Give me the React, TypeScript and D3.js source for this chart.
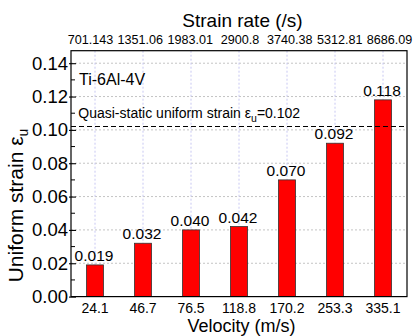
import { useEffect, useRef } from 'react'
import { select, scaleBand, scaleLinear, scalePoint, axisLeft, format } from 'd3'

const velocities = ['24.1', '46.7', '76.5', '118.8', '170.2', '253.3', '335.1']
const strainRates = ['701.143', '1351.06', '1983.01', '2900.8', '3740.38', '5312.81', '8686.09']
const uniformStrain = [0.019, 0.032, 0.04, 0.042, 0.07, 0.092, 0.118]
const quasiStatic = 0.102
const majorTicks = [0, 0.02, 0.04, 0.06, 0.08, 0.1, 0.12, 0.14]
const minorTicks = [0.01, 0.03, 0.05, 0.07, 0.09, 0.11, 0.13]

const W = 416
const H = 336
const left = 71
const right = 407
const top = 50.7
const bottom = 296.6
const font = 'Liberation Sans, Arial, Helvetica, sans-serif'

export default function App() {
  const svgRef = useRef<SVGSVGElement | null>(null)

  useEffect(() => {
    const svg = select(svgRef.current)
    svg.selectAll('*').remove()

    const x = scaleBand<string>().domain(velocities).range([left, right]).padding(0)
    const y = scaleLinear().domain([0, 0.1475]).range([bottom, top])
    // top axis labels are spread a little wider than the bars
    const xTop = scalePoint<string>().domain(strainRates).range([90.5, 389.5])
    const cx = (v: string) => (x(v) as number) + x.bandwidth() / 2
    const barW = x.bandwidth() * 0.355

    // grid
    svg
      .append('g')
      .selectAll('line')
      .data(majorTicks.slice(1))
      .join('line')
      .attr('x1', left)
      .attr('x2', right)
      .attr('y1', (d) => y(d))
      .attr('y2', (d) => y(d))
      .attr('stroke', '#c4c4c4')
      .attr('stroke-dasharray', '2,2')
    svg
      .append('g')
      .selectAll('line')
      .data(velocities)
      .join('line')
      .attr('x1', cx)
      .attr('x2', cx)
      .attr('y1', top)
      .attr('y2', bottom)
      .attr('stroke', '#c8c8f2')
      .attr('stroke-dasharray', '2,2')

    // bars
    svg
      .append('g')
      .selectAll('rect')
      .data(uniformStrain)
      .join('rect')
      .attr('x', (_, i) => cx(velocities[i]) - barW / 2)
      .attr('width', barW)
      .attr('y', (d) => y(d))
      .attr('height', (d) => bottom - y(d))
      .attr('fill', '#ff0000')
      .attr('stroke', '#333')
      .attr('stroke-width', 0.8)

    const fmt = format('.3f')
    svg
      .append('g')
      .selectAll('text')
      .data(uniformStrain)
      .join('text')
      .attr('x', (_, i) => cx(velocities[i]) - 1)
      .attr('y', (d) => y(d) - 4)
      .attr('text-anchor', 'middle')
      .attr('font-family', font)
      .attr('font-size', 15.5)
      .text((d) => fmt(d))

    // quasi-static line
    svg
      .append('line')
      .attr('x1', left)
      .attr('x2', right)
      .attr('y1', y(quasiStatic))
      .attr('y2', y(quasiStatic))
      .attr('stroke', '#000')
      .attr('stroke-width', 1.1)
      .attr('stroke-dasharray', '5,3')

    const q = svg
      .append('text')
      .attr('x', 78.3)
      .attr('y', 118.3)
      .attr('font-family', font)
      .attr('font-size', 14)
    q.append('tspan').text('Quasi-static uniform strain ε')
    q.append('tspan').attr('font-size', 10.5).attr('dy', 3.5).text('u')
    q.append('tspan').attr('dy', -3.5).text(`=${quasiStatic.toFixed(3)}`)

    svg
      .append('text')
      .attr('x', 79)
      .attr('y', 85)
      .attr('font-family', font)
      .attr('font-size', 16)
      .text('Ti-6Al-4V')

    // frame
    svg
      .append('rect')
      .attr('x', left)
      .attr('y', top)
      .attr('width', right - left)
      .attr('height', bottom - top)
      .attr('fill', 'none')
      .attr('stroke', '#000')
      .attr('stroke-width', 1.2)

    // y axis
    const yAxis = axisLeft(y)
      .tickValues(majorTicks)
      .tickSizeInner(-5)
      .tickSizeOuter(0)
      .tickPadding(-1)
      .tickFormat((d) => format('.2f')(d as number))
    const ya = svg.append('g').attr('transform', `translate(${left},0)`).call(yAxis as any)
    ya.select('.domain').remove()
    ya.selectAll('.tick line').attr('x1', -2).attr('x2', 5).attr('stroke-width', 1.1)
    ya.selectAll('.tick text')
      .attr('x', -3)
      .attr('font-family', font)
      .attr('font-size', 18.5)
      .attr('fill', '#000')
    svg
      .append('g')
      .selectAll('line')
      .data(minorTicks)
      .join('line')
      .attr('x1', left)
      .attr('x2', left + 4)
      .attr('y1', (d) => y(d))
      .attr('y2', (d) => y(d))
      .attr('stroke', '#000')

    // bottom labels
    svg
      .append('g')
      .selectAll('text')
      .data(velocities)
      .join('text')
      .attr('x', cx)
      .attr('y', 313)
      .attr('text-anchor', 'middle')
      .attr('font-family', font)
      .attr('font-size', 14)
      .text((d) => d)

    // top labels
    svg
      .append('g')
      .selectAll('text')
      .data(strainRates)
      .join('text')
      .attr('x', (d) => xTop(d) as number)
      .attr('y', 43.5)
      .attr('text-anchor', 'middle')
      .attr('font-family', font)
      .attr('font-size', 12.6)
      .text((d) => d)

    svg
      .append('text')
      .attr('x', 242.5)
      .attr('y', 26.7)
      .attr('text-anchor', 'middle')
      .attr('font-family', font)
      .attr('font-size', 19)
      .text('Strain rate (/s)')

    svg
      .append('text')
      .attr('x', 241.5)
      .attr('y', 332)
      .attr('text-anchor', 'middle')
      .attr('font-family', font)
      .attr('font-size', 18)
      .text('Velocity (m/s)')

    const yt = svg
      .append('text')
      .attr('transform', `translate(23,205.5) rotate(-90)`)
      .attr('text-anchor', 'middle')
      .attr('font-family', font)
      .attr('font-size', 21)
    yt.append('tspan').text('Uniform strain ε')
    yt.append('tspan').attr('font-size', 14).attr('dy', 5).text('u')
  }, [])

  return (
    <svg
      ref={svgRef}
      width={W}
      height={H}
      style={{ position: 'absolute', left: 0, top: 0, background: '#fff' }}
    />
  )
}
